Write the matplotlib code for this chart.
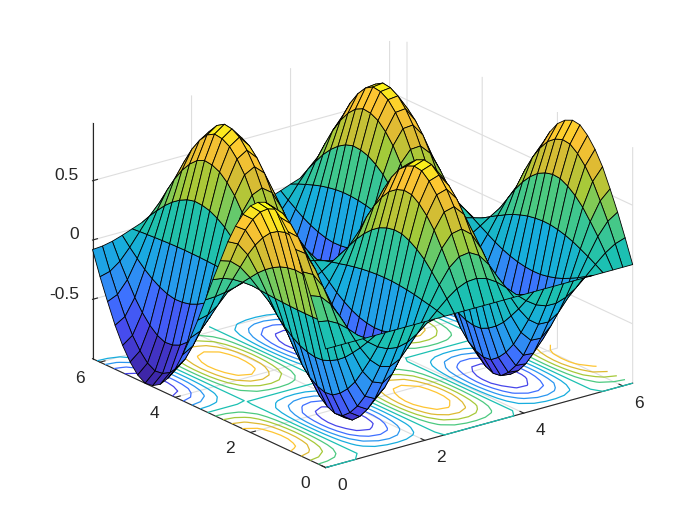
import numpy as np
import matplotlib
matplotlib.use('Agg')
import matplotlib.pyplot as plt
from matplotlib.colors import LinearSegmentedColormap, Normalize

plt.rcParams['font.family'] = ['Liberation Sans', 'DejaVu Sans']

# Grid positions
x_values = [0.0, 0.2, 0.4, 0.6, 0.8, 1.0, 1.2, 1.4, 1.6, 1.8, 2.0, 2.2, 2.4, 2.6, 2.8, 3.0,
            3.2, 3.4, 3.6, 3.8, 4.0, 4.2, 4.4, 4.6, 4.8, 5.0, 5.2, 5.4, 5.6, 5.8, 6.0, 6.2]
y_values = [0.0, 0.2, 0.4, 0.6, 0.8, 1.0, 1.2, 1.4, 1.6, 1.8, 2.0, 2.2, 2.4, 2.6, 2.8, 3.0,
            3.2, 3.4, 3.6, 3.8, 4.0, 4.2, 4.4, 4.6, 4.8, 5.0, 5.2, 5.4, 5.6, 5.8, 6.0, 6.2]
# Surface height profiles (along x and along y)
profile_x = [1.00, 0.92, 0.70, 0.36, -0.03, -0.42, -0.74, -0.94, -1.00, -0.90, -0.65, -0.31,
             0.09, 0.47, 0.78, 0.96, 0.99, 0.87, 0.61, 0.25, -0.15, -0.52, -0.81, -0.97,
             -0.98, -0.84, -0.57, -0.20, 0.20, 0.57, 0.84, 0.98]
profile_y = [0.00, 0.20, 0.39, 0.56, 0.72, 0.84, 0.93, 0.99, 1.00, 0.97, 0.91, 0.81, 0.68, 0.52,
             0.33, 0.14, -0.06, -0.26, -0.44, -0.61, -0.76, -0.87, -0.95, -0.99, -1.00, -0.96,
             -0.88, -0.77, -0.63, -0.46, -0.28, -0.08]
contour_levels = [-0.8, -0.6, -0.4, -0.2, 0.0, 0.2, 0.4, 0.6, 0.8]
x_ticks = [0, 2, 4, 6]
y_ticks = [0, 2, 4, 6]
z_ticks = [-0.5, 0, 0.5]
z_tick_labels = ['-0.5', '0', '0.5']

parula = LinearSegmentedColormap.from_list('parula', [
    (0.2422, 0.1504, 0.6603), (0.2803, 0.2782, 0.9221), (0.2440, 0.4358, 0.9988),
    (0.1640, 0.5902, 0.9400), (0.0900, 0.6800, 0.8700), (0.1080, 0.7530, 0.7000),
    (0.3000, 0.7900, 0.5000), (0.6473, 0.7905, 0.2239), (0.8700, 0.7300, 0.2000),
    (0.9955, 0.7700, 0.2000), (0.9769, 0.9839, 0.0805)])

X, Y = np.meshgrid(x_values, y_values)
Z = np.outer(profile_y, profile_x)
norm = Normalize(-1.0, 1.0)

fig = plt.figure(figsize=(7, 5.25), dpi=100)
ax = fig.add_axes([5.5 / 700, 2.5 / 525, 1, 1], projection='3d', proj_type='ortho')
ax.computed_zorder = False
ax.view_init(elev=21, azim=-127.5)
ax.set_box_aspect((1.01, 1, 0.66), zoom=1.11)
ax.set_xlim(0, 6.2); ax.set_ylim(0, 6.2); ax.set_zlim(-1.0, 0.99)

cs = ax.contour(X, Y, Z, levels=contour_levels, zdir='z', offset=-1.0, cmap=parula, norm=norm,
                linewidths=0.9, zorder=1)
cs.set_clip_on(False)
surf = ax.plot_surface(X, Y, Z, rstride=1, cstride=1, facecolors=parula(norm(Z)), shade=False,
                       edgecolor='k', linewidth=0.6, antialiased=True, zorder=2)
surf.set_clip_on(False)

ax.set_xticks(x_ticks); ax.set_yticks(y_ticks); ax.set_zticks(z_ticks)
ax.set_zticklabels(z_tick_labels)
ax.zaxis.set_ticks_position('upper')
for a in (ax.xaxis, ax.yaxis, ax.zaxis):
    a.set_pane_color((1, 1, 1, 0))
    a.pane.set_edgecolor('none')
    a.line.set_color('#262626'); a.line.set_linewidth(0.8)
    a._axinfo['grid'].update(color='#dedede', linewidth=0.8)
    a._axinfo['tick'].update(inward_factor=0.0, outward_factor=0.2)
    a.set_tick_params(labelsize=12.5, colors='#262626', width=0.6, pad=2)
ax.zaxis.set_tick_params(pad=-3)
for t in ax.get_xticklabels():
    t.set_ha('left'); t.set_va('center')
for t in ax.get_yticklabels():
    t.set_ha('right'); t.set_va('center')
for t in ax.get_zticklabels():
    t.set_ha('right'); t.set_va('baseline')

fig.savefig('out.png', dpi=100)
